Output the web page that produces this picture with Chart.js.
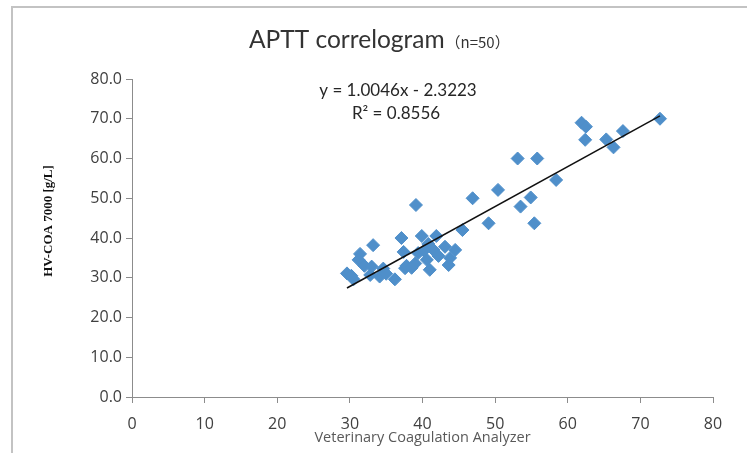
<!DOCTYPE html>
<html>
<head>
<meta charset="utf-8">
<script src="https://cdn.jsdelivr.net/npm/chart.js@4/dist/chart.umd.min.js"></script>
<style>
html,body{margin:0;padding:0;background:#fff;}
#wrap{position:relative;width:747px;height:453px;}
#frame{position:absolute;left:11px;top:6px;right:0;bottom:0;border-top:2px solid #c3c3c3;border-left:2px solid #c3c3c3;pointer-events:none;}
canvas{position:absolute;left:0;top:0;}
</style>
</head>
<body>
<div id="wrap">
<canvas id="c" width="747" height="453"></canvas>
<div id="frame"></div>
</div>
<script>
// Data
const analyzerX = [29.6,30.5,30.2,31.4,31.2,32.0,32.8,33.2,33.0,34.1,34.6,35.0,36.2,37.1,37.6,37.4,37.8,39.1,39.0,39.4,39.9,40.6,41.0,40.8,41.5,41.9,40.2,43.1,43.6,43.8,44.5,45.5,46.9,49.1,50.4,53.1,53.5,54.9,55.4,55.8,58.4,61.9,62.5,62.4,65.3,66.3,67.6,72.7,38.5,42.2];
const hvcoaY    = [31.1,29.6,30.5,36.0,34.5,33.0,30.7,38.2,32.8,30.3,32.3,31.0,29.6,40.0,32.4,36.5,33.0,48.3,33.6,36.2,40.5,34.5,32.0,38.5,37.0,40.5,36.8,37.8,33.2,35.0,37.0,42.0,50.0,43.7,52.1,60.0,47.9,50.2,43.7,60.0,54.6,69.0,68.0,64.7,64.8,62.8,66.9,70.0,32.5,35.5];
const slope = 1.0046;
const intercept = -2.3223;
const rSquared = 0.8556;
const xTicks = [0,10,20,30,40,50,60,70,80];
const yTicks = [0,10,20,30,40,50,60,70,80];
const titleText = 'APTT correlogram';
const titleN = '（n=50）';
const xTitle = 'Veterinary Coagulation Analyzer';
const yTitle = 'HV-COA 7000 [g/L]';

const points = analyzerX.map((x,i)=>({x:x,y:hvcoaY[i]}));
const xMin = Math.min(...analyzerX), xMax = Math.max(...analyzerX);
const trend = [{x:xMin,y:slope*xMin+intercept},{x:xMax,y:slope*xMax+intercept}];

const textPlugin = {
  id:'texts',
  afterDraw(chart){
    const ctx = chart.ctx;
    ctx.save();
    ctx.fillStyle = '#333333';
    ctx.textBaseline = 'alphabetic';
    ctx.textAlign = 'left';
    ctx.font = '24.5px Lato, "Noto Sans CJK SC"';
    ctx.fillText(titleText, 249, 48);
    const w = ctx.measureText(titleText).width;
    ctx.font = '15px "Noto Sans CJK SC"';
    ctx.fillText(titleN, 249 + w + 1, 48);
    ctx.fillStyle = '#262626';
    ctx.textAlign = 'center';
    ctx.font = '17px Lato';
    ctx.fillText('y = ' + slope.toFixed(4) + 'x - ' + Math.abs(intercept).toFixed(4), 398, 96);
    ctx.fillText('R² = ' + rSquared.toFixed(4), 396, 119);
    ctx.translate(49, 221);
    ctx.rotate(-Math.PI/2);
    ctx.fillStyle = '#111111';
    ctx.font = 'bold 13px "Liberation Serif"';
    ctx.textBaseline = 'middle';
    ctx.fillText(yTitle, 0, 0);
    ctx.restore();
  }
};

new Chart(document.getElementById('c'), {
  type:'scatter',
  data:{
    datasets:[
      {
        label:'data',
        data:points,
        pointStyle:'rectRot',
        pointRadius:6.5,
        pointBorderWidth:1,
        backgroundColor:'#4f8fca',
        borderColor:'#4f8fca',
        order:2
      },
      {
        label:'trend',
        type:'line',
        data:trend,
        borderColor:'#111111',
        borderWidth:1.5,
        pointRadius:0,
        fill:false,
        order:1
      }
    ]
  },
  options:{
    responsive:false,
    animation:false,
    devicePixelRatio:1,
    layout:{padding:{top:79,right:34,left:0,bottom:0}},
    plugins:{legend:{display:false},title:{display:false},tooltip:{enabled:false}},
    scales:{
      x:{
        type:'linear',min:0,max:80,
        afterBuildTicks(s){ s.ticks = xTicks.map(v=>({value:v})); },
        afterFit(s){ s.height = 56; },
        grid:{display:true,drawOnChartArea:false,drawTicks:true,tickLength:6,color:'#8c8c8c'},
        border:{display:true,color:'#8c8c8c',width:1},
        ticks:{color:'#404040',font:{family:'"Open Sans"',size:16},padding:12,maxRotation:0},
        title:{display:true,text:xTitle,color:'#595959',font:{family:'"Open Sans"',size:14.5},padding:{top:0,bottom:6}}
      },
      y:{
        type:'linear',min:0,max:80,
        afterBuildTicks(s){ s.ticks = yTicks.map(v=>({value:v})); },
        afterFit(s){ s.width = 132; },
        grid:{display:true,drawOnChartArea:false,drawTicks:true,tickLength:6,color:'#8c8c8c'},
        border:{display:true,color:'#8c8c8c',width:1},
        ticks:{color:'#404040',font:{family:'"Open Sans"',size:16},padding:4,callback:v=>Number(v).toFixed(1)}
      }
    }
  },
  plugins:[textPlugin]
});
</script>
</body>
</html>
